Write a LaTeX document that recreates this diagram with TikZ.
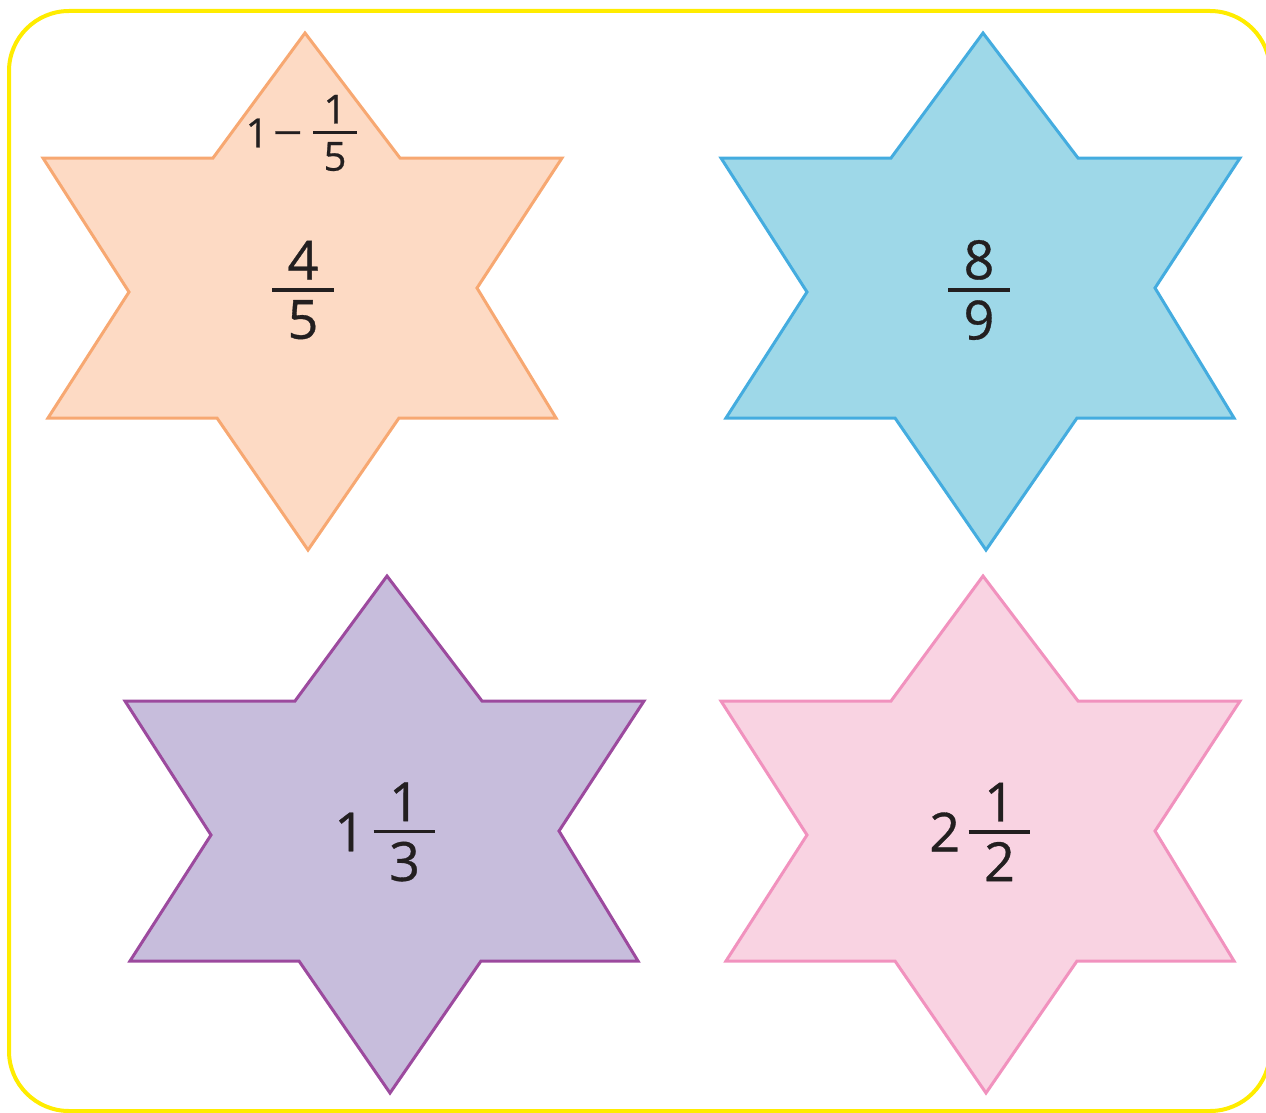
\documentclass[tikz,border=0pt]{standalone}
\usepackage{fontspec}
\setmainfont{Open Sans}[FakeBold=0.6]
\usepackage{graphicx}
\usepackage{xcolor}
\usetikzlibrary{positioning}

\definecolor{framey}{HTML}{FFEC00}
\definecolor{ink}{HTML}{231F20}
\definecolor{orangefill}{HTML}{FDDAC4}
\definecolor{orangeline}{HTML}{F7A872}
\definecolor{bluefill}{HTML}{9ED8E8}
\definecolor{blueline}{HTML}{44ACDF}
\definecolor{purplefill}{HTML}{C7BDDC}
\definecolor{purpleline}{HTML}{9C4A9E}
\definecolor{pinkfill}{HTML}{F9D3E2}
\definecolor{pinkline}{HTML}{F192BE}

% fraction: #1 side padding of the bar, #2 gap to the bar, #3 numerator, #4 denominator
\newcommand\fr[4]{\vbox{\offinterlineskip\halign{\hskip#1\hfil##\hfil\hskip#1\cr
  #3\cr\noalign{\kern#2\hrule height0.066em\kern#2}#4\cr}}}

\begin{document}
\begin{tikzpicture}[x=1pt,y=-1pt,
  frame/.style={draw=framey,line width=4pt,rounded corners=60pt},
  starshape/.style={line width=3pt,line join=miter},
  bignum/.style={inner sep=0pt,text=ink,font=\fontsize{54}{60}\selectfont},
  smallnum/.style={inner sep=0pt,text=ink,font=\fontsize{40}{46}\selectfont}
]
\useasboundingbox (0,0) rectangle (1266,1113);
\draw[frame] (9,11) rectangle (1270,1111);

% the four stars
\foreach \dx/\dy/\fc/\dc in {0/0/orangefill/orangeline,678/0/bluefill/blueline,82/543/purplefill/purpleline,678/543/pinkfill/pinkline}
  \draw[starshape,fill=\fc,draw=\dc,shift={(\dx,\dy)}] (305,33) -- (400,158) -- (562,158) -- (477,288)
    -- (556,418) -- (399,418) -- (308,550) -- (217,418) -- (48,418) -- (129,292) -- (43,158) -- (213,158) -- cycle;

% orange star
\node[smallnum] (f15) at (335,133) {\fr{10.5pt}{8pt}{1}{5}};
\node[smallnum,left=10pt of f15,yshift=-6pt] (minus15) {\scalebox{1.3}[1]{−}};
\node[smallnum,left=4pt of minus15,yshift=6pt] (one15) {1};
\node[bignum] (f45) at (303,290) {\fr{15.5pt}{8.5pt}{4}{5}};

% blue star
\node[bignum] (f89) at (979,290) {\fr{15.5pt}{8.5pt}{8}{9}};

% purple star
\node[bignum] (f13) at (404.5,832) {\fr{15.5pt}{8.5pt}{1}{3}};
\node[bignum,left=8pt of f13] (w13) {1};

% pink star
\node[bignum] (f12) at (999.5,832) {\fr{15.5pt}{8.5pt}{1}{2}};
\node[bignum,left=8pt of f12] (w12) {2};
\end{tikzpicture}
\end{document}
